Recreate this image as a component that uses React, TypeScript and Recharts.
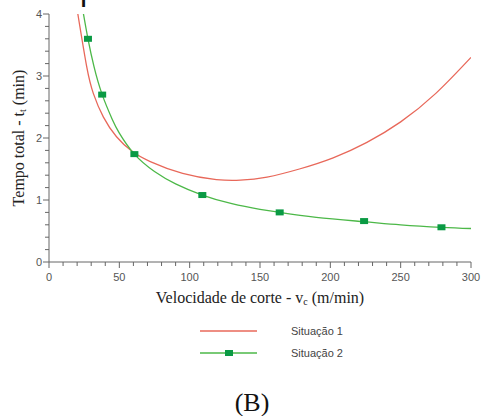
import React from 'react';
import { ComposedChart, Line, Scatter, XAxis, YAxis, Label } from 'recharts';

// Situação 1 (red curve)
const s1Vel = [20.5, 26.8, 31.5, 38.6, 48, 58.8, 72, 95, 119, 136, 155, 178, 202, 226, 250, 275, 300];
const s1Time = [4.0, 3.15, 2.72, 2.34, 2.02, 1.79, 1.62, 1.43, 1.33, 1.32, 1.37, 1.5, 1.68, 1.93, 2.26, 2.72, 3.3];

// Situação 2 (green curve)
const s2Vel = [24.5, 27.7, 32, 37.8, 45, 50, 60.7, 75, 90, 109, 130, 150, 164, 190, 224, 250, 279, 300];
const s2Time = [4.0, 3.6, 3.15, 2.7, 2.3, 2.08, 1.74, 1.46, 1.26, 1.08, 0.94, 0.85, 0.8, 0.72, 0.65, 0.6, 0.56, 0.54];

// square markers on Situação 2
const markVel = [27.7, 37.8, 60.7, 109, 164, 224, 279];
const markTime = [3.6, 2.7, 1.74, 1.08, 0.8, 0.66, 0.56];

const xTicks = [0, 10, 20, 30, 40, 50, 60, 70, 80, 90, 100, 110, 120, 130, 140, 150, 160, 170, 180, 190, 200,
  210, 220, 230, 240, 250, 260, 270, 280, 290, 300];
const yTicks = [0, 0.2, 0.4, 0.6, 0.8, 1, 1.2, 1.4, 1.6, 1.8, 2, 2.2, 2.4, 2.6, 2.8, 3, 3.2, 3.4, 3.6, 3.8, 4];

const legendLabels = ['Situação 1', 'Situação 2'];

const RED = '#e8685a';
const GREEN = '#4cb848';
const MARK = '#0a9a44';
const AXIS = '#666';
const TICK_TXT = '#555';
const SANS = '"Liberation Sans", Arial, sans-serif';
const SERIF = '"Liberation Serif", "Times New Roman", serif';

const s1Data = s1Vel.map((v, i) => ({ v, t: s1Time[i] }));
const s2Data = s2Vel.map((v, i) => ({ v, t: s2Time[i] }));
const markData = markVel.map((v, i) => ({ v, t: markTime[i] }));

const XTick = (props: any) => {
  const { x, y, payload } = props;
  const major = payload.value % 50 === 0;
  return (
    <g>
      <line x1={x} x2={x} y1={y} y2={y + (major ? 6 : 4)} stroke={AXIS} />
      {major && (
        <text x={x} y={y + 19} textAnchor="middle" fontFamily={SANS} fontSize={11} fill={TICK_TXT}>
          {payload.value}
        </text>
      )}
    </g>
  );
};

const YTick = (props: any) => {
  const { x, y, payload } = props;
  const major = Math.abs(payload.value - Math.round(payload.value)) < 1e-6;
  return (
    <g>
      <line x1={x - (major ? 6 : 4)} x2={x} y1={y} y2={y} stroke={AXIS} />
      {major && (
        <text x={x - 7} y={y + 4} textAnchor="end" fontFamily={SANS} fontSize={11} fill={TICK_TXT}>
          {payload.value}
        </text>
      )}
    </g>
  );
};

const SquareMark = (props: any) => {
  const { cx, cy } = props;
  return <rect x={cx - 4} y={cy - 3} width={8} height={6} fill={MARK} />;
};

const App: React.FC = () => {
  return (
    <div style={{ position: 'relative', width: 483, height: 416, background: '#fff' }}>
      <style>{'body{margin:0}'}</style>
      <ComposedChart width={483} height={310} margin={{ top: 14, right: 12, left: 0, bottom: 0 }}>
        <XAxis
          type="number"
          dataKey="v"
          domain={[0, 300]}
          ticks={xTicks}
          interval={0}
          height={48}
          stroke={AXIS}
          tickLine={false}
          tickSize={0}
          tickMargin={0}
          tick={<XTick />}
          allowDataOverflow
        >
          <Label
            content={(p: any) => {
              const vb = p.viewBox;
              return (
                <text x={vb.x + vb.width / 2} y={vb.y + 41} textAnchor="middle" fontFamily={SERIF} fontSize={16} fill="#222">
                  Velocidade de corte - v
                  <tspan fontSize={10} dy={2}>c</tspan>
                  <tspan dy={-2}> (m/min)</tspan>
                </text>
              );
            }}
          />
        </XAxis>
        <YAxis
          type="number"
          domain={[0, 4]}
          ticks={yTicks}
          interval={0}
          width={49}
          stroke={AXIS}
          tickLine={false}
          tickSize={0}
          tickMargin={0}
          tick={<YTick />}
          allowDataOverflow
        >
          <Label
            content={(p: any) => {
              const vb = p.viewBox;
              const cy = vb.y + vb.height / 2;
              return (
                <text x={24} y={cy} transform={`rotate(-90, 24, ${cy})`} textAnchor="middle" fontFamily={SERIF} fontSize={16} fill="#222">
                  Tempo total - t
                  <tspan fontSize={10} dy={2}>t</tspan>
                  <tspan dy={-2}> (min)</tspan>
                </text>
              );
            }}
          />
        </YAxis>
        <Line data={s1Data} dataKey="t" type="natural" stroke={RED} strokeWidth={1.3} dot={false} isAnimationActive={false} />
        <Line data={s2Data} dataKey="t" type="natural" stroke={GREEN} strokeWidth={1.3} dot={false} isAnimationActive={false} />
        <Scatter data={markData} dataKey="t" shape={<SquareMark />} isAnimationActive={false} />
      </ComposedChart>
      <svg width={483} height={106} style={{ position: 'absolute', left: 0, top: 310 }}>
        <line x1={200} x2={257} y1={21} y2={21} stroke={RED} strokeWidth={1.3} />
        <text x={291} y={25} fontFamily={SANS} fontSize={11} fill="#444">{legendLabels[0]}</text>
        <line x1={200} x2={257} y1={43} y2={43} stroke={GREEN} strokeWidth={1.3} />
        <rect x={225} y={40} width={8} height={6} fill={MARK} />
        <text x={291} y={47} fontFamily={SANS} fontSize={11} fill="#444">{legendLabels[1]}</text>
        <text x={252} y={101} textAnchor="middle" fontFamily={SERIF} fontSize={26} fill="#111">(B)</text>
      </svg>
      <svg width={483} height={12} style={{ position: 'absolute', left: 0, top: 0 }}>
        <text x={80} y={0} fontFamily={SANS} fontSize={32} fill="#111">p</text>
      </svg>
    </div>
  );
};

export default App;
